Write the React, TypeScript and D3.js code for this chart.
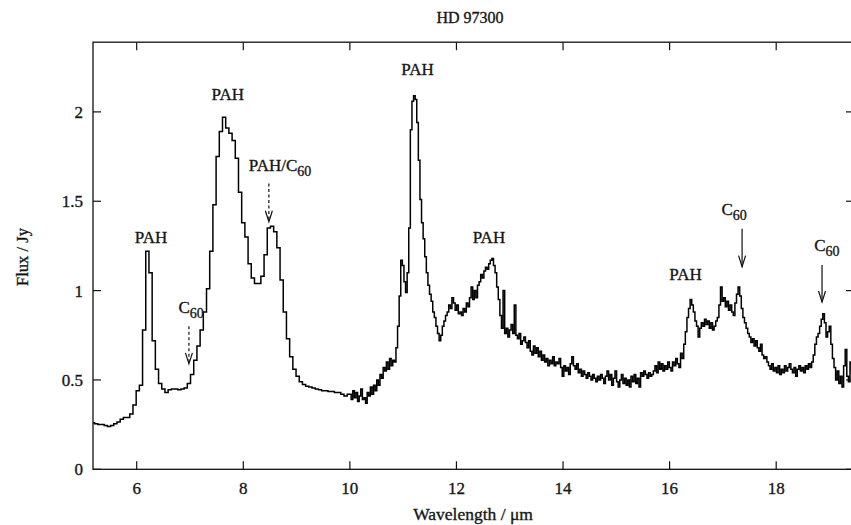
import React from "react";
import * as d3 from "d3";

// ---- data ----
const lowResStart = 5.18;
const lowResStep = 0.06;
const lowResFlux = [
  0.26, 0.255, 0.25, 0.25, 0.245, 0.24, 0.245, 0.255, 0.265, 0.28,
  0.29, 0.29, 0.31, 0.36, 0.44, 0.47, 0.78, 1.22, 1.1, 0.72,
  0.56, 0.48, 0.45, 0.43, 0.445, 0.45, 0.45, 0.445, 0.45, 0.455,
  0.48, 0.53, 0.61, 0.69, 0.78, 0.88, 1.01, 1.22, 1.48, 1.75,
  1.89, 1.97, 1.91, 1.88, 1.84, 1.74, 1.55, 1.38, 1.3, 1.15,
  1.07, 1.04, 1.04, 1.08, 1.2, 1.35, 1.36, 1.33, 1.24, 1.06,
  0.88, 0.73, 0.63, 0.56, 0.52, 0.49, 0.475, 0.465, 0.46, 0.455,
  0.45, 0.445, 0.44, 0.44, 0.435, 0.435, 0.43, 0.43, 0.42, 0.41,
  0.42,
];

const highResStart = 10.01;
const highResStep = 0.03;
const highResFlux = [
  0.42, 0.39, 0.44, 0.4, 0.43, 0.38, 0.41, 0.45, 0.39, 0.4,
  0.37, 0.43, 0.41, 0.46, 0.42, 0.47, 0.44, 0.5, 0.47, 0.53,
  0.51, 0.57, 0.55, 0.6, 0.56, 0.62, 0.58, 0.61, 0.6, 0.68,
  0.8, 0.97, 1.17, 1.14, 1.05, 0.99, 1.1, 1.35, 1.9, 2.06,
  2.09, 2.07, 1.94, 1.73, 1.51, 1.38, 1.29, 1.19, 1.1, 1.03,
  0.98, 0.94, 0.88, 0.85, 0.8, 0.76, 0.72, 0.75, 0.8, 0.83,
  0.86, 0.88, 0.92, 0.9, 0.96, 0.93, 0.89, 0.92, 0.87, 0.88,
  0.86, 0.9, 0.88, 0.93, 0.91, 0.96, 1.02, 0.95, 1.0, 0.96,
  1.03, 1.05, 1.09, 1.07, 1.11, 1.13, 1.12, 1.15, 1.17, 1.18,
  1.14, 1.1, 1.02, 0.95, 0.86, 0.79, 1.0, 0.76, 0.79, 0.74,
  0.78, 0.81, 0.76, 0.92, 0.75, 0.73, 0.76, 0.7, 0.72, 0.74,
  0.71, 0.68, 0.72, 0.66, 0.64, 0.69, 0.65, 0.68, 0.63, 0.66,
  0.61, 0.64, 0.6, 0.62, 0.58, 0.61, 0.59, 0.63, 0.58, 0.6,
  0.59, 0.62, 0.57, 0.52, 0.58, 0.55, 0.57, 0.53, 0.59, 0.63,
  0.58, 0.56, 0.59, 0.54, 0.56, 0.52, 0.55, 0.53, 0.51, 0.54,
  0.52, 0.5, 0.53, 0.51, 0.49, 0.52, 0.5, 0.53, 0.51, 0.48,
  0.52, 0.55, 0.5, 0.53, 0.47, 0.51, 0.55, 0.49, 0.46, 0.5,
  0.53, 0.48, 0.51, 0.47, 0.5, 0.46, 0.52, 0.49, 0.53, 0.48,
  0.51, 0.46, 0.54, 0.52, 0.55, 0.53, 0.51, 0.54, 0.52, 0.53,
  0.55, 0.58, 0.54, 0.6, 0.56, 0.59, 0.55, 0.58, 0.56, 0.6,
  0.57, 0.55, 0.6, 0.58, 0.62, 0.59, 0.57, 0.65, 0.62, 0.7,
  0.77, 0.85, 0.9, 0.95, 0.92, 0.88, 0.83, 0.8, 0.74, 0.79,
  0.82, 0.8, 0.84, 0.81, 0.83, 0.79, 0.82, 0.78, 0.8, 0.83,
  0.85, 0.92, 1.02, 0.94, 0.96, 0.91, 0.94, 0.89, 0.92, 0.88,
  0.86, 0.93, 0.98, 1.02, 0.97, 0.9, 0.85, 0.82, 0.79, 0.76,
  0.74, 0.71, 0.73, 0.69, 0.72, 0.68, 0.66, 0.7, 0.64, 0.62,
  0.63, 0.6, 0.58, 0.56, 0.59, 0.55, 0.57, 0.54, 0.58, 0.53,
  0.56, 0.54, 0.58, 0.55, 0.57, 0.59, 0.56, 0.54, 0.57, 0.52,
  0.56, 0.58, 0.55, 0.57, 0.54, 0.58, 0.56, 0.59, 0.57, 0.6,
  0.64, 0.7, 0.74, 0.76, 0.8, 0.84, 0.87, 0.82, 0.74, 0.77,
  0.8, 0.7, 0.62, 0.57, 0.5, 0.55, 0.48, 0.52, 0.46, 0.58,
  0.67, 0.52, 0.49, 0.6, 0.55, 0.57,
];

const xTicks = [6, 8, 10, 12, 14, 16, 18];
const yTicks = [0, 0.5, 1, 1.5, 2];
const yTickLabels = ["0", "0.5", "1", "1.5", "2"];

// labels: wavelength, flux (baseline), main text, subscript
const labelX = [6.27, 7.02, 7.71, 8.69, 11.27, 12.61, 16.3, 17.21, 18.95];
const labelY = [1.266, 0.875, 2.066, 1.67, 2.207, 1.265, 1.06, 1.423, 1.223];
const labelText = ["PAH", "C", "PAH", "PAH/C", "PAH", "PAH", "PAH", "C", "C"];
const labelSub = ["", "60", "", "60", "", "", "", "60", "60"];

// arrows
const arrowX = [6.98, 8.48, 17.36, 18.86];
const arrowY0 = [0.8, 1.6, 1.346, 1.143];
const arrowY1 = [0.59, 1.385, 1.134, 0.936];
const arrowDashed = [true, true, false, false];

const W = 851;
const H = 525;
const FONT = "'Liberation Serif', 'Times New Roman', Times, serif";

const txt: React.CSSProperties = { fontFamily: FONT };

export default function App() {
  const x = d3.scaleLinear().domain([5.18, 19.46]).range([93, 854]);
  const y = d3.scaleLinear().domain([0, 2.39]).range([469.3, 42.2]);

  const pts: [number, number][] = [];
  lowResFlux.forEach((f, i) => pts.push([lowResStart + i * lowResStep, f]));
  highResFlux.forEach((f, i) => pts.push([highResStart + i * highResStep, f]));

  const line = d3
    .line<[number, number]>()
    .x((d) => x(d[0]))
    .y((d) => y(d[1]))
    .curve(d3.curveStep);

  const [x0, x1] = x.range();
  const [yb, yt] = y.range();
  const tl = 8;
  const tstroke = { stroke: "#222", strokeWidth: 0.35 };

  return (
    <svg
      width={W}
      height={H}
      style={{ position: "absolute", left: 0, top: 0, background: "#fff" }}
    >
      <defs>
        <clipPath id="plotclip">
          <rect x={x0} y={yt} width={x1 - x0} height={yb - yt} />
        </clipPath>
      </defs>
      <rect x={0} y={0} width={W} height={H} fill="#fff" />

      <text x={470} y={23} textAnchor="middle" fontSize={16} fill="#111" style={txt} {...tstroke}>
        HD 97300
      </text>

      <path
        d={line(pts) || ""}
        fill="none"
        stroke="#000"
        strokeWidth={1.5}
        clipPath="url(#plotclip)"
      />

      <rect x={x0} y={yt} width={x1 - x0} height={yb - yt} fill="none" stroke="#111" strokeWidth={1.3} />

      {xTicks.map((t) => (
        <g key={"xt" + t}>
          <line x1={x(t)} x2={x(t)} y1={yb} y2={yb - tl} stroke="#111" strokeWidth={1.2} />
          <line x1={x(t)} x2={x(t)} y1={yt} y2={yt + tl} stroke="#111" strokeWidth={1.2} />
          <text x={x(t)} y={494} textAnchor="middle" fontSize={17} fill="#111" style={txt} {...tstroke}>
            {t}
          </text>
        </g>
      ))}
      {yTicks.map((t, i) => (
        <g key={"yt" + t}>
          <line x1={x0} x2={x0 + tl} y1={y(t)} y2={y(t)} stroke="#111" strokeWidth={1.2} />
          <line x1={x1} x2={x1 - tl} y1={y(t)} y2={y(t)} stroke="#111" strokeWidth={1.2} />
          <text x={83} y={y(t) + 6} textAnchor="end" fontSize={17} fill="#111" style={txt} {...tstroke}>
            {yTickLabels[i]}
          </text>
        </g>
      ))}

      <text x={473} y={520} textAnchor="middle" fontSize={17.5} fill="#111" style={txt} {...tstroke}>
        Wavelength / μm
      </text>
      <text
        transform="translate(28,257) rotate(-90)"
        textAnchor="middle"
        fontSize={16.5}
        fill="#111"
        style={txt}
        {...tstroke}
      >
        Flux / Jy
      </text>

      {labelText.map((t, i) => (
        <text
          key={"lab" + i}
          x={x(labelX[i])}
          y={y(labelY[i])}
          textAnchor="middle"
          fontSize={17}
          fill="#111"
          style={txt}
          {...tstroke}
        >
          {t}
          {labelSub[i] ? (
            <tspan fontSize={14} dy={5}>
              {labelSub[i]}
            </tspan>
          ) : null}
        </text>
      ))}

      {arrowX.map((ax, i) => {
        const px = x(ax);
        const py0 = y(arrowY0[i]);
        const py1 = y(arrowY1[i]);
        const dashed = arrowDashed[i];
        return (
          <g key={"ar" + i}>
            <line
              x1={px}
              x2={px}
              y1={py0}
              y2={py1}
              stroke="#111"
              strokeWidth={1.2}
              strokeDasharray={dashed ? "3,2.5" : undefined}
            />
            <path
              d={`M${px - 3.5},${py1 - 11} L${px},${py1} L${px + 3.5},${py1 - 11}`}
              fill="none"
              stroke="#111"
              strokeWidth={1.2}
            />
          </g>
        );
      })}
    </svg>
  );
}
